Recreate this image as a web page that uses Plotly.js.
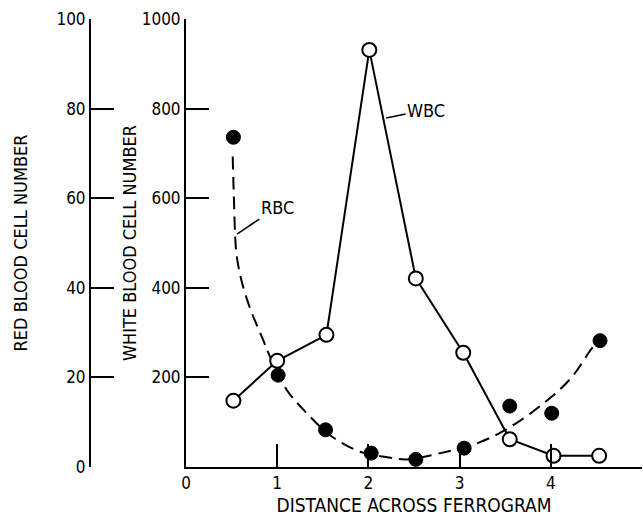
<!DOCTYPE html>
<html>
<head>
<meta charset="utf-8">
<script src="https://cdn.plot.ly/plotly-3.0.1.min.js"></script>
<style>
html,body{margin:0;padding:0;background:#fff;}
#chart{width:643px;height:520px;}
</style>
</head>
<body>
<div id="chart"></div>
<script>
// Distance across ferrogram (x) for each sample
const wbcX = [0.52, 1.0, 1.54, 2.01, 2.52, 3.04, 3.55, 4.03, 4.53];
const wbcY = [148, 237, 295, 931, 421, 255, 62, 25, 25];

const rbcX = [0.52, 1.01, 1.53, 2.03, 2.52, 3.05, 3.55, 4.01, 4.54];
const rbcY = [73.6, 20.5, 8.3, 3.1, 1.7, 4.2, 13.6, 12.0, 28.2];

// dashed RBC trend curve
const fitX = [0.512, 0.519, 0.527, 0.538, 0.556, 0.611, 0.710, 0.831, 0.922, 1.105, 1.325, 1.58, 1.91, 2.17, 2.42, 2.79, 3.23, 3.56, 3.92, 4.22, 4.45, 4.52];
const fitY = [69.3, 64.2, 58.9, 52.0, 47.1, 41.4, 35.0, 29.1, 24.6, 17.2, 12.0, 7.1, 3.4, 2.3, 1.7, 3.1, 5.6, 9.0, 14.2, 19.8, 26.5, 28.0];

const xTicks = [0, 1, 2, 3, 4, 5];
const rbcTicks = [0, 20, 40, 60, 80, 100];
const wbcTicks = [200, 400, 600, 800, 1000];

const FONT = '"DejaVu Sans Condensed", "Liberation Sans Narrow", "DejaVu Sans", sans-serif';

const traces = [
  {
    x: fitX, y: fitY, yaxis: 'y', mode: 'lines', type: 'scatter',
    line: {color: '#000', width: 2, dash: '13px,7px', shape: 'spline', smoothing: 1},
    hoverinfo: 'skip', showlegend: false
  },
  {
    x: rbcX, y: rbcY, yaxis: 'y', mode: 'markers', type: 'scatter',
    marker: {color: '#000', size: 14, line: {color: '#000', width: 1}},
    showlegend: false
  },
  {
    x: wbcX, y: wbcY, yaxis: 'y2', mode: 'lines+markers', type: 'scatter',
    line: {color: '#000', width: 2},
    marker: {color: '#fff', size: 14, line: {color: '#000', width: 2}},
    showlegend: false
  }
];

const axisCommon = {
  showgrid: false, zeroline: false, showline: true,
  linecolor: '#000', linewidth: 2,
  ticks: 'inside', ticklen: 23, tickwidth: 2, tickcolor: '#000',
  tickfont: {family: FONT, size: 17, color: '#000'}
};

const layout = {
  width: 643, height: 520,
  margin: {l: 0, r: 1, t: 19, b: 53},
  paper_bgcolor: '#fff', plot_bgcolor: 'rgba(0,0,0,0)',
  showlegend: false,
  font: {family: FONT, color: '#000'},
  xaxis: Object.assign({}, axisCommon, {
    domain: [186/642, 1], range: [0, 5], anchor: 'y',
    tickmode: 'array', tickvals: xTicks, ticktext: xTicks.map(String),
    title: {text: 'DISTANCE ACROSS FERROGRAM', font: {family: FONT, size: 19, color: '#000'}, standoff: 6}
  }),
  yaxis: Object.assign({}, axisCommon, {
    range: [0, 100], anchor: 'free', position: 90/642, side: 'left',
    tickmode: 'array', tickvals: rbcTicks, ticktext: rbcTicks.map(String),
    title: {text: 'RED BLOOD CELL NUMBER', font: {family: FONT, size: 18, color: '#000'}, standoff: 23}
  }),
  yaxis2: Object.assign({}, axisCommon, {
    range: [0, 1000], anchor: 'x', overlaying: 'y', side: 'left',
    tickmode: 'array', tickvals: wbcTicks, ticktext: wbcTicks.map(String),
    title: {text: 'WHITE BLOOD CELL NUMBER', font: {family: FONT, size: 18, color: '#000'}, standoff: 0}
  }),
  annotations: [
    {
      x: 0.56, y: 52, xref: 'x', yref: 'y', text: 'RBC',
      showarrow: true, arrowhead: 0, arrowwidth: 1.5, arrowcolor: '#000',
      ax: 40, ay: -27, standoff: 0,
      font: {family: FONT, size: 18, color: '#000'}
    },
    {
      x: 2.195, y: 779, xref: 'x', yref: 'y2', text: 'WBC',
      showarrow: true, arrowhead: 0, arrowwidth: 1.5, arrowcolor: '#000',
      ax: 40, ay: -8, standoff: 0,
      font: {family: FONT, size: 18, color: '#000'}
    }
  ]
};

Plotly.newPlot('chart', traces, layout, {staticPlot: true, displayModeBar: false});
</script>
</body>
</html>
